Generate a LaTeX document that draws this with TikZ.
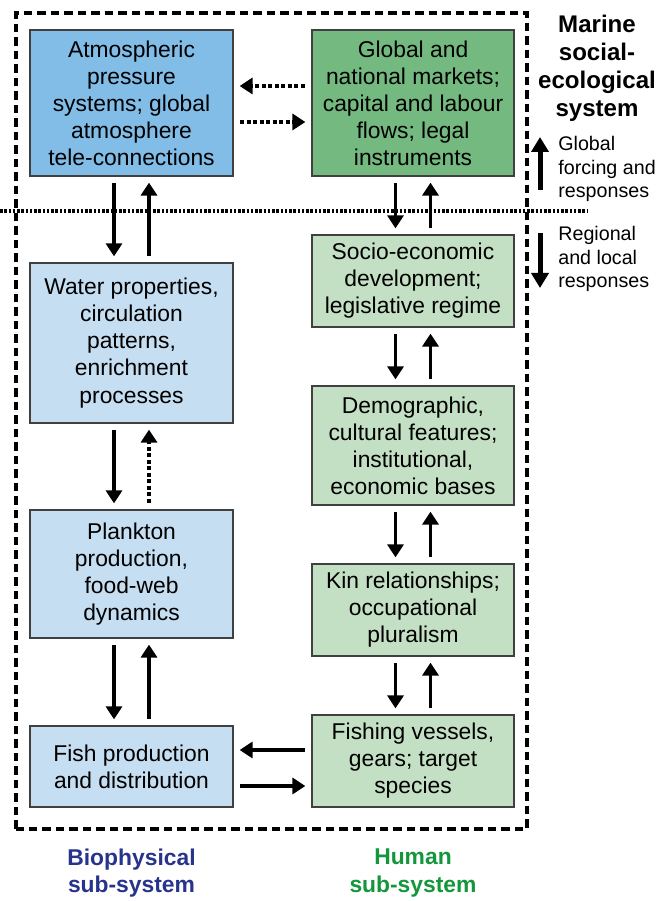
\documentclass[tikz,border=0pt]{standalone}
\usepackage{fontspec}
\setmainfont{Liberation Sans}
\usetikzlibrary{arrows.meta}

\definecolor{atmblue}{RGB}{129,189,231}
\definecolor{globgreen}{RGB}{116,186,128}
\definecolor{paleblue}{RGB}{198,222,241}
\definecolor{palegreen}{RGB}{196,224,196}
\definecolor{biotext}{RGB}{40,52,140}
\definecolor{humtext}{RGB}{20,150,60}

\tikzset{
	box/.style={draw=black!75, line width=0.7pt, align=center, minimum width=4.06cm, inner sep=0pt, font=\fontsize{13}{15.4}\selectfont},
	arr/.style={line width=2pt, -{Triangle[length=0.26cm, width=0.32cm]}, shorten <=0.13cm, shorten >=0.12cm},
	dotarr/.style={arr, dash pattern=on 0.08cm off 0.05cm},
	bigarr/.style={line width=0.1cm, -{Triangle[length=0.3cm, width=0.34cm]}},
	sidelab/.style={anchor=west, align=left, inner sep=0pt, font=\fontsize{11.2}{13.4}\selectfont},
	sublab/.style={align=center, font=\bfseries\fontsize{13}{15.4}\selectfont}
}

\begin{document}
\begin{tikzpicture}
			%%%%% START %%%%%
			\useasboundingbox (0, 0) rectangle (13.24, 18.02);
			
			\draw[line width=2pt, dash pattern=on 0.17cm off 0.1cm] (0.32, 1.44) rectangle (10.54, 17.76);
			\draw[line width=2pt, dash pattern=on 0.05cm off 0.035cm] (0, 13.8) -- (11.74, 13.8);
			
			% biophysical side
			\node[box, fill=atmblue, minimum height=2.92cm] (atm) at (2.63, 15.96) {Atmospheric\\pressure\\systems; global\\atmosphere\\tele-connections};
			\node[box, fill=paleblue, minimum height=3.2cm] (water) at (2.63, 11.16) {Water properties,\\circulation\\patterns,\\enrichment\\processes};
			\node[box, fill=paleblue, minimum height=2.56cm] (plank) at (2.63, 6.54) {Plankton\\production,\\food-web\\dynamics};
			\node[box, fill=paleblue, minimum height=1.62cm] (fish) at (2.63, 2.69) {Fish production\\and distribution};
			
			% human side
			\node[box, fill=globgreen, minimum width=4.04cm, minimum height=2.92cm] (glob) at (8.26, 15.96) {Global and\\national markets;\\capital and labour\\flows; legal\\instruments};
			\node[box, fill=palegreen, minimum width=4.04cm, minimum height=1.84cm] (socio) at (8.26, 12.4) {Socio-economic\\development;\\legislative regime};
			\node[box, fill=palegreen, minimum width=4.04cm, minimum height=2.38cm] (demo) at (8.26, 9.11) {Demographic,\\cultural features;\\institutional,\\economic bases};
			\node[box, fill=palegreen, minimum width=4.04cm, minimum height=1.84cm] (kin) at (8.26, 5.82) {Kin relationships;\\occupational\\pluralism};
			\node[box, fill=palegreen, minimum width=4.04cm, minimum height=1.84cm] (fishing) at (8.26, 2.8) {Fishing vessels,\\gears; target\\species};
			
			% up and down
			\draw[arr] ([xshift=-0.35cm]atm.south) -- ([xshift=-0.35cm]water.north);
			\draw[arr] ([xshift=0.35cm]water.north) -- ([xshift=0.35cm]atm.south);
			\draw[arr] ([xshift=-0.35cm]water.south) -- ([xshift=-0.35cm]plank.north);
			\draw[dotarr] ([xshift=0.35cm]plank.north) -- ([xshift=0.35cm]water.south);
			\draw[arr] ([xshift=-0.35cm]plank.south) -- ([xshift=-0.35cm]fish.north);
			\draw[arr] ([xshift=0.35cm]fish.north) -- ([xshift=0.35cm]plank.south);
			
			\draw[arr] ([xshift=-0.35cm]glob.south) -- ([xshift=-0.35cm]socio.north);
			\draw[arr] ([xshift=0.35cm]socio.north) -- ([xshift=0.35cm]glob.south);
			\draw[arr] ([xshift=-0.35cm]socio.south) -- ([xshift=-0.35cm]demo.north);
			\draw[arr] ([xshift=0.35cm]demo.north) -- ([xshift=0.35cm]socio.south);
			\draw[arr] ([xshift=-0.35cm]demo.south) -- ([xshift=-0.35cm]kin.north);
			\draw[arr] ([xshift=0.35cm]kin.north) -- ([xshift=0.35cm]demo.south);
			\draw[arr] ([xshift=-0.35cm]kin.south) -- ([xshift=-0.35cm]fishing.north);
			\draw[arr] ([xshift=0.35cm]fishing.north) -- ([xshift=0.35cm]kin.south);
			
			% across
			\coordinate (al) at ([yshift=0.34cm]atm.east);
			\coordinate (ar) at ([yshift=-0.38cm]atm.east);
			\draw[dotarr] (glob.west |- al) -- (al);
			\draw[dotarr] (ar) -- (glob.west |- ar);
			
			\coordinate (fl) at ([yshift=0.33cm]fish.east);
			\coordinate (fr) at ([yshift=-0.39cm]fish.east);
			\draw[arr] (fishing.west |- fl) -- (fl);
			\draw[arr] (fr) -- (fishing.west |- fr);
			
			% right side
			\node[align=center, inner sep=0pt, font=\bfseries\fontsize{13.7}{15.9}\selectfont] (mses) at (11.94, 16.66) {Marine\\social-\\ecological\\system};
			
			\coordinate (gup0) at (10.8, 14.22);
			\coordinate (gup1) at (10.8, 15.28);
			\draw[bigarr] (gup0) -- (gup1);
			\node[sidelab] (glab) at (11.16, 14.64) {Global\\forcing and\\responses};
			
			\coordinate (rdn0) at (10.8, 13.36);
			\coordinate (rdn1) at (10.8, 12.26);
			\draw[bigarr] (rdn0) -- (rdn1);
			\node[sidelab] (rlab) at (11.16, 12.84) {Regional\\and local\\responses};
			
			% sub-systems
			\node[sublab, text=biotext] (bio) at (2.63, 0.56) {Biophysical\\sub-system};
			\node[sublab, text=humtext] (hum) at (8.26, 0.56) {Human\\sub-system};
			
			%%%%% END %%%%%
\end{tikzpicture}
\end{document}
